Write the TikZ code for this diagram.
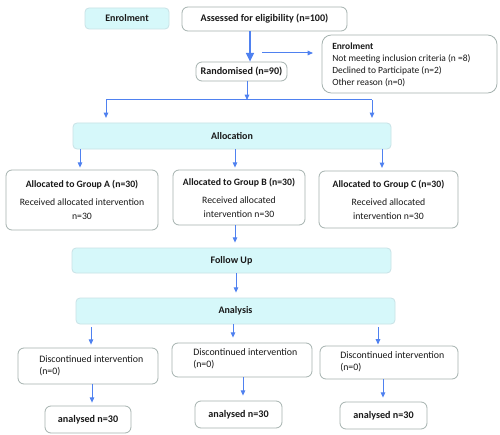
\documentclass[tikz,border=0pt]{standalone}
\usepackage{fontspec}
\setmainfont{Carlito}
\usetikzlibrary{arrows.meta}
\definecolor{arrblue}{RGB}{79,129,240}
\definecolor{cyanfill}{RGB}{214,248,250}
\definecolor{cyanline}{RGB}{200,226,230}
\definecolor{greyline}{RGB}{165,178,175}
\definecolor{txtcol}{RGB}{25,25,25}
\newcommand\mybox[7]{\node[#6, minimum width={(#4-#2)*0.75pt}, minimum height={(#5-#3)*0.75pt}] (#1) at ({(#2+#4)/2},{(#3+#5)/2}) {#7};}
\begin{document}
\begin{tikzpicture}[x=0.75pt,y=-0.75pt,
  every node/.style={text=txtcol},
  phase/.style={draw=cyanline, fill=cyanfill, rounded corners=3pt, inner sep=0pt, line width=0.6pt, font=\fontsize{7.5}{9}\selectfont\bfseries},
  wbox/.style={draw=greyline, fill=white, rounded corners=4.5pt, inner sep=0pt, line width=0.6pt, align=center, font=\fontsize{7.3}{10.5}\selectfont},
  bwbox/.style={wbox, font=\fontsize{7.6}{9}\selectfont\bfseries},
  ltxt/.style={inner sep=0pt, align=left, anchor=north west},
  arr/.style={draw=arrblue, line width=0.75pt, -{Triangle[length=4pt,width=3.4pt]}},
  arrbig/.style={draw=arrblue, line width=1.1pt, -{Triangle[length=6.5pt,width=6pt]}},
  plain/.style={draw=arrblue, line width=0.75pt}]
\useasboundingbox (0,0) rectangle (500,435);
\fill[white] (0,0) rectangle (500,435);
% boxes
\mybox{enrol}{85}{8}{169}{29}{phase}{Enrolment}
\mybox{assess}{182}{7}{347}{31}{bwbox}{Assessed for eligibility (n=100)}
\mybox{rand}{196}{62}{287}{81}{bwbox}{Randomised (n=90)}
\mybox{excl}{322}{35}{497}{93}{wbox, rounded corners=7pt}{}
\node[ltxt, font=\fontsize{7.1}{8.8}\selectfont] (excltxt) at (332,43) {\textbf{Enrolment}\\Not meeting inclusion criteria (n =8)\\Declined to Participate (n=2)\\Other reason (n=0)};
\mybox{alloc}{73}{123}{391}{149}{phase}{Allocation}
\mybox{grpA}{6}{170}{158}{230}{wbox}{\textbf{Allocated to Group A (n=30)}\\[3pt]Received allocated intervention\\n=30}
\mybox{grpB}{173}{170}{305}{225}{wbox}{\textbf{Allocated to Group B (n=30)}\\[3pt]Received allocated\\intervention n=30}
\mybox{grpC}{319}{171}{458}{228}{wbox}{\textbf{Allocated to Group C (n=30)}\\[3pt]Received allocated\\intervention n=30}
\mybox{follow}{72}{248}{391}{273}{phase}{Follow Up}
\mybox{analysis}{76}{298}{395}{324}{phase}{Analysis}
\mybox{discA}{18}{348}{158}{384}{wbox}{}
\mybox{discB}{172}{343}{312}{377}{wbox}{}
\mybox{discC}{320}{346}{458}{379}{wbox}{}
\node[ltxt, font=\fontsize{7.4}{9}\selectfont] (discAt) at (39,355) {Discontinued intervention\\(n=0)};
\node[ltxt, font=\fontsize{7.4}{9}\selectfont] (discBt) at (193,348) {Discontinued intervention\\(n=0)};
\node[ltxt, font=\fontsize{7.4}{9}\selectfont] (discCt) at (340,351) {Discontinued intervention\\(n=0)};
\mybox{anA}{45}{406}{131}{433}{bwbox}{analysed n=30}
\mybox{anB}{195}{401}{282}{428}{bwbox}{analysed n=30}
\mybox{anC}{340}{402}{427}{429}{bwbox}{analysed n=30}
% column coordinates
\coordinate (c1) at (250,0);
\coordinate (h1) at (262,53);
\coordinate (h2) at (313,53);
\coordinate (bar) at (247,100);
\coordinate (barL) at (106,100);
\coordinate (barR) at (372,100);
\coordinate (k1) at (80,0);
\coordinate (k2) at (235,0);
\coordinate (k3) at (382,0);
\coordinate (k4) at (236,0);
\coordinate (m1) at (91,0);
\coordinate (m2) at (233,0);
\coordinate (m3) at (378,0);
\coordinate (n1) at (92,0);
\coordinate (n2) at (243,0);
\coordinate (n3) at (383,0);
% connectors
\draw[arrbig] (assess.south -| c1) -- (rand.north -| c1);
\draw[arr] (h1) -- (h2);
\draw[arr] (rand.south -| bar) -- (bar);
\draw[plain] (barL) -- (barR);
\draw[arr, shorten >=3.5pt] (barL) -- (alloc.north -| barL);
\draw[arr, shorten >=3.5pt] (barR) -- (alloc.north -| barR);
\draw[arr, shorten >=1.5pt] (alloc.south -| k1) -- (grpA.north -| k1);
\draw[arr, shorten >=1.5pt] (alloc.south -| k2) -- (grpB.north -| k2);
\draw[arr, shorten >=2pt] (alloc.south -| k3) -- (grpC.north -| k3);
\draw[arr, shorten >=3.75pt] (grpB.south -| k2) -- (follow.north -| k2);
\draw[arr, shorten >=3.75pt] (follow.south -| k4) -- (analysis.north -| k4);
\draw[arr, shorten <=2.2pt, shorten >=2.2pt] (analysis.south -| m1) -- (discA.north -| m1);
\draw[arr, shorten >=3.75pt] (analysis.south -| m2) -- (discB.north -| m2);
\draw[arr, shorten <=2.2pt, shorten >=0.8pt] (analysis.south -| m3) -- (discC.north -| m3);
\draw[arr, shorten >=2.2pt] (discA.south -| n1) -- (anA.north -| n1);
\draw[arr, shorten >=3.75pt] (discB.south -| n2) -- (anB.north -| n2);
\draw[arr, shorten >=3pt] (discC.south -| n3) -- (anC.north -| n3);
\end{tikzpicture}
\end{document}
